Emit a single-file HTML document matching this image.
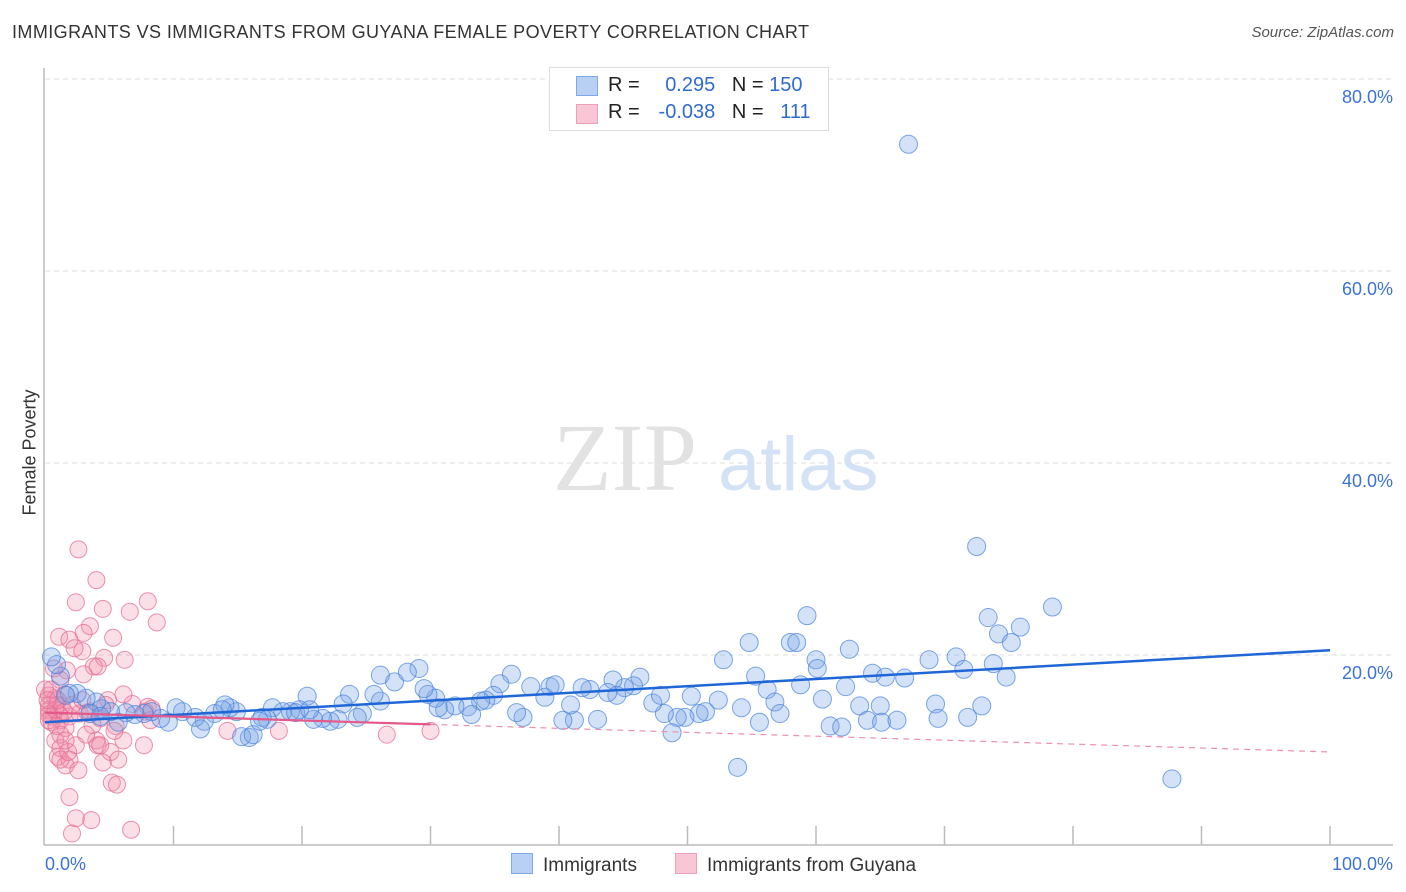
<!DOCTYPE html>
<html><head><meta charset="utf-8">
<style>
body{margin:0;background:#fff;font-family:"Liberation Sans",sans-serif;}
#wrap{position:relative;width:1406px;height:892px;overflow:hidden;}
.t{position:absolute;white-space:nowrap;}
</style></head><body>
<div id="wrap">
<div class="t" style="left:12px;top:22px;font-size:18px;color:#333;letter-spacing:0.42px">IMMIGRANTS VS IMMIGRANTS FROM GUYANA FEMALE POVERTY CORRELATION CHART</div>
<div class="t" style="right:12px;top:24px;font-size:15px;color:#555;font-style:italic">Source: ZipAtlas.com</div>
<div class="t" style="left:-30px;top:445px;font-size:18px;color:#333;transform:rotate(-90deg);transform-origin:center;width:120px;text-align:center">Female Poverty</div>
<svg id="plot" width="1406" height="892" style="position:absolute;left:0;top:0"></svg>
</div>
<script>
const NS="http://www.w3.org/2000/svg";
const yTicks=[20,40,60,80];
const yTickLabels=["20.0%","40.0%","60.0%","80.0%"];
const xTicks=[10,20,30,40,50,60,70,80,90,100];
const blueX=[67.2,72.5,78.4,73.4,75.9,74.2,75.2,73.8,74.8,70.9,71.5,68.8,64.4,62.6,60.0,59.3,58.0,58.5,54.8,52.8,55.3,56.2,58.8,62.3,60.1,65.4,66.9,63.4,65.0,69.3,71.8,72.9,69.5,61.1,62.0,64.0,65.1,66.3,60.5,56.8,57.2,54.2,55.6,53.9,87.7,52.4,51.4,50.9,50.3,49.8,49.2,48.8,48.2,47.3,47.9,46.3,45.8,45.1,44.2,44.5,43.8,42.4,41.8,43.0,41.2,40.3,40.9,39.3,38.9,39.7,37.8,37.2,36.7,36.3,35.4,34.9,34.3,33.9,32.9,33.2,31.9,31.1,30.6,30.4,29.8,29.5,29.1,27.2,26.1,25.6,24.7,24.3,23.7,23.2,22.8,22.2,21.6,20.9,20.4,19.8,19.1,18.5,17.7,17.3,16.9,15.9,15.3,16.2,14.9,14.4,14.0,13.2,12.4,11.7,10.7,10.2,9.6,9.0,8.3,7.7,7.0,6.3,5.7,5.1,4.4,4.0,3.2,2.5,1.9,1.2,0.9,0.5,1.6,3.5,4.3,12.1,19.5,28.2,26.1,20.6,13.8,16.7];
const blueY=[73.2,31.3,25.0,23.9,22.9,22.2,21.3,19.1,17.7,19.8,18.5,19.5,18.1,20.6,19.5,24.1,21.3,21.3,21.3,19.5,17.8,16.4,16.9,16.7,18.6,17.7,17.6,14.7,14.7,14.9,13.5,14.7,13.4,12.6,12.5,13.2,13.0,13.2,15.4,15.1,13.9,14.5,13.0,8.3,7.1,15.3,14.1,13.9,15.7,13.5,13.5,11.9,13.9,15.0,15.8,17.7,16.8,16.6,17.4,15.8,16.1,16.4,16.6,13.3,13.2,13.2,14.8,16.7,15.6,16.9,16.7,13.5,14.0,18.0,17.0,15.8,15.3,15.2,14.6,13.8,14.7,14.3,14.5,15.5,15.9,16.5,18.6,17.2,15.2,15.9,13.9,13.5,15.9,14.9,13.3,13.1,13.4,13.3,15.7,14.3,14.1,14.1,14.5,13.3,13.5,11.4,11.5,11.7,14.1,14.5,14.8,13.9,13.1,13.5,14.1,14.5,13.0,13.4,14.1,13.9,13.8,14.0,13.0,14.1,14.4,15.1,15.5,16.0,16.0,17.8,19.0,19.8,15.8,13.9,13.6,12.3,14.0,18.2,17.9,14.3,14.3,13.1];
const pinkX=[2.6,4.0,2.4,4.5,6.6,8.0,8.7,3.5,3.0,5.3,1.1,1.9,2.9,2.3,4.6,6.2,3.8,1.7,4.1,3.0,0.7,1.2,1.6,0.8,6.1,0.9,8.0,8.3,7.8,1.1,0.5,1.2,0.5,1.9,2.7,3.3,4.3,5.5,1.6,3.7,0.8,6.1,4.1,1.2,2.4,5.1,7.7,1.0,1.9,1.6,2.6,5.7,4.5,8.2,4.0,5.2,5.6,1.9,2.4,3.6,6.7,2.1,26.6,30.0,18.2,14.2,5.4,1.2,1.8,0.3,0.3,0.3,0.3,0.3,0.8,1.3,1.5,1.0,0.5,2.1,2.9,3.5,0.9,1.2,3.2,4.3,0.0,0.2,1.6,4.9,6.8,4.7];
const pinkY=[31.0,27.8,25.5,24.8,24.5,25.6,23.4,23.0,22.3,21.8,21.9,21.6,20.4,20.7,19.7,19.5,18.8,18.4,18.8,18.0,18.6,17.4,15.9,15.5,15.9,14.8,14.6,14.4,14.1,13.8,13.6,13.2,13.0,13.6,13.9,14.0,13.4,12.6,12.4,12.7,11.1,11.1,10.6,10.3,10.6,9.9,10.6,9.4,9.1,8.5,8.0,9.1,8.8,13.2,11.1,6.7,6.5,5.2,3.0,2.8,1.8,1.4,11.7,12.1,12.1,12.1,12.1,9.1,9.9,15.8,14.8,14.3,13.8,13.2,14.3,14.7,14.1,15.3,16.4,14.8,15.3,14.1,12.6,11.7,11.7,10.6,16.4,15.3,11.1,15.3,14.9,14.8];
const blueTrend=[13.0,20.5];
const pinkTrend=[14.0,9.9];

const X0=45,X1=1330,Y0=847,Y80=79;
const xs=v=>X0+(X1-X0)*v/100;
const ys=v=>Y0-(Y0-Y80)*v/80;
const svg=document.getElementById('plot');
function mk(tag,attrs,parent){const e=document.createElementNS(NS,tag);for(const k in attrs)e.setAttribute(k,attrs[k]);(parent||svg).appendChild(e);return e;}

yTicks.forEach((t,i)=>{
 const g=mk('line',{x1:45,x2:1393,y1:ys(t),y2:ys(t),stroke:'#dcdcdc','stroke-dasharray':'5,4','stroke-width':1});
 
 
 const tx=mk('text',{x:1393,y:ys(t)+24,'text-anchor':'end','font-size':18,fill:'#3b73d6','font-family':'Liberation Sans, sans-serif'});
 tx.textContent=yTickLabels[i];
 
 
});
const ax=mk('line',{x1:44,x2:44,y1:68,y2:845,stroke:'#bbb','stroke-width':1.5});


const bx=mk('line',{x1:44,x2:1393,y1:845,y2:845,stroke:'#bbb','stroke-width':1.5});


xTicks.forEach(t=>{
 const l=mk('line',{x1:xs(t),x2:xs(t),y1:826,y2:845,stroke:'#bbb','stroke-width':1.5});
 
 
});
const wm=mk('text',{x:553,y:490,'font-size':96,fill:'#e2e2e2','font-family':'Liberation Serif, serif'});
wm.textContent='ZIP';


const wm2=mk('text',{x:718,y:490,'font-size':76,fill:'#d3e2f5','font-family':'Liberation Sans, sans-serif'});
wm2.textContent='atlas';



pinkX.forEach((v,i)=>{
 const c=mk('circle',{cx:xs(v),cy:ys(pinkY[i]),r:8.5,fill:'rgba(242,140,170,0.28)',stroke:'rgba(228,110,150,0.75)','stroke-width':1});
 
 
});
blueX.forEach((v,i)=>{
 const c=mk('circle',{cx:xs(v),cy:ys(blueY[i]),r:9,fill:'rgba(120,165,230,0.32)',stroke:'rgba(70,130,220,0.7)','stroke-width':1});
 
 
});
const bt=mk('line',{x1:xs(0),y1:ys(blueTrend[0]),x2:xs(100),y2:ys(blueTrend[1]),stroke:'#1f66d6','stroke-width':2.5});


const pv=x=>pinkTrend[0]+(pinkTrend[1]-pinkTrend[0])*x/100;
const pt=mk('line',{x1:xs(0),y1:ys(pv(0)),x2:xs(30),y2:ys(pv(30)),stroke:'#e4588a','stroke-width':2.2});


const pd=mk('line',{x1:xs(30),y1:ys(pv(30)),x2:xs(100),y2:ys(pv(100)),stroke:'#ec8fae','stroke-width':1.2,'stroke-dasharray':'6,5'});



const xl=mk('text',{x:45,y:870,'font-size':18,fill:'#3b73d6','font-family':'Liberation Sans, sans-serif'});
xl.textContent='0.0%';


const xr=mk('text',{x:1393,y:870,'text-anchor':'end','font-size':18,fill:'#3b73d6','font-family':'Liberation Sans, sans-serif'});
xr.textContent='100.0%';


</script>
<div class="t" style="left:549px;top:67px;width:278px;height:62px;border:1px solid #ddd;background:#fff;font-size:20px;color:#222">
 <div style="position:absolute;left:26px;top:8px;width:20px;height:18px;background:#b8d0f3;border:1px solid #7fa8e6"></div>
 <div class="t" style="left:58px;top:6px">R = <span style="color:#2f6bd1;display:inline-block;width:70px;text-align:right">0.295</span>&nbsp;&nbsp;&nbsp;N = <span style="color:#2f6bd1">150</span></div>
 <div style="position:absolute;left:26px;top:36px;width:20px;height:18px;background:#f8c6d5;border:1px solid #eea0b8"></div>
 <div class="t" style="left:58px;top:33px">R = <span style="color:#2f6bd1;display:inline-block;width:70px;text-align:right">-0.038</span>&nbsp;&nbsp;&nbsp;N = &nbsp;&nbsp;<span style="color:#2f6bd1">111</span></div>
</div>
<div class="t" style="left:511px;top:853px;font-size:19px;color:#333">
 <span style="display:inline-block;width:20px;height:19px;background:#b8d0f3;border:1px solid #7fa8e6;vertical-align:-3px;margin-right:10px"></span>Immigrants</div>
<div class="t" style="left:675px;top:853px;font-size:19px;color:#333">
 <span style="display:inline-block;width:20px;height:19px;background:#f8c6d5;border:1px solid #eea0b8;vertical-align:-3px;margin-right:10px"></span>Immigrants from Guyana</div>
</body></html>
